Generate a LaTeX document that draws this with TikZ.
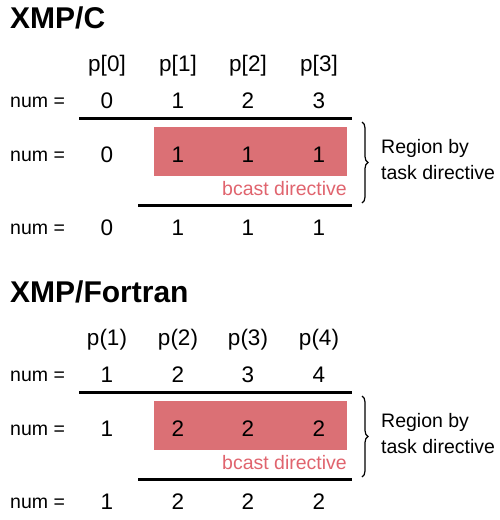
\documentclass[tikz,border=0pt]{standalone}
\usepackage{fontspec}
\setmainfont{Liberation Sans}
\usetikzlibrary{decorations.pathreplacing}
\definecolor{bcastfill}{HTML}{DB7075}
\definecolor{bcasttext}{HTML}{E0646E}
\tikzset{
  lbl/.style={font=\fontsize{22.5}{26}\selectfont, anchor=base, inner sep=0pt},
  numlbl/.style={font=\fontsize{19.5}{23}\selectfont, anchor=base west, inner sep=0pt},
  ttl/.style={font=\fontsize{30}{34}\selectfont\bfseries, anchor=base west, inner sep=0pt},
  side/.style={font=\fontsize{19.5}{23}\selectfont, anchor=base west, inner sep=0pt},
  bcast/.style={font=\fontsize{19.5}{23}\selectfont, anchor=base east, inner sep=0pt, text=bcasttext},
  rulebar/.style={line width=3pt},
  regionbox/.style={fill=bcastfill, draw=none},
  bracebar/.style={decorate, decoration={brace, amplitude=6pt}, line width=1.2pt},
}
\begin{document}
\begin{tikzpicture}[x=1pt, y=-1pt]
\useasboundingbox (0,0) rectangle (500,520);

% ---------- XMP/C ----------
\node[ttl] (ctitle) at (10,28) {XMP/C};
\node[lbl] (cp0) at (107,71) {p[0]};
\node[lbl] (cp1) at (178,71) {p[1]};
\node[lbl] (cp2) at (248,71) {p[2]};
\node[lbl] (cp3) at (319,71) {p[3]};

\node[numlbl] (cn1) at (10,107) {num =};
\node[lbl] (ca0) at (107,108) {0};
\node[lbl] (ca1) at (178,108) {1};
\node[lbl] (ca2) at (248,108) {2};
\node[lbl] (ca3) at (319,108) {3};

\coordinate (cl1a) at (79,118);
\coordinate (cl1b) at (352,118);
\draw[rulebar] (cl1a) -- (cl1b);

\path[regionbox] (154,127) rectangle (347,176);
\node[numlbl] (cn2) at (10,161) {num =};
\node[lbl] (cb0) at (107,162) {0};
\node[lbl] (cb1) at (178,162) {1};
\node[lbl] (cb2) at (248,162) {1};
\node[lbl] (cb3) at (319,162) {1};
\node[bcast] (cbc) at (347,195) {bcast directive};

\coordinate (cl2a) at (138,205);
\coordinate (cl2b) at (352,205);
\draw[rulebar] (cl2a) -- (cl2b);

\node[numlbl] (cn3) at (10,234) {num =};
\node[lbl] (cc0) at (107,235) {0};
\node[lbl] (cc1) at (178,235) {1};
\node[lbl] (cc2) at (248,235) {1};
\node[lbl] (cc3) at (319,235) {1};

\coordinate (cbt) at (362,122);
\coordinate (cbb) at (362,203);
\draw[bracebar] (cbt) -- (cbb);
\node[side] (cr1) at (381,153) {Region by};
\node[side] (cr2) at (381,179) {task directive};

% ---------- XMP/Fortran ----------
\begin{scope}[shift={(0,274)}]
\node[ttl] (ftitle) at (10,28) {XMP/Fortran};
\node[lbl] (fp0) at (107,71) {p(1)};
\node[lbl] (fp1) at (178,71) {p(2)};
\node[lbl] (fp2) at (248,71) {p(3)};
\node[lbl] (fp3) at (319,71) {p(4)};

\node[numlbl] (fn1) at (10,107) {num =};
\node[lbl] (fa0) at (107,108) {1};
\node[lbl] (fa1) at (178,108) {2};
\node[lbl] (fa2) at (248,108) {3};
\node[lbl] (fa3) at (319,108) {4};

\coordinate (fl1a) at (79,118);
\coordinate (fl1b) at (352,118);
\draw[rulebar] (fl1a) -- (fl1b);

\path[regionbox] (154,127) rectangle (347,176);
\node[numlbl] (fn2) at (10,161) {num =};
\node[lbl] (fb0) at (107,162) {1};
\node[lbl] (fb1) at (178,162) {2};
\node[lbl] (fb2) at (248,162) {2};
\node[lbl] (fb3) at (319,162) {2};
\node[bcast] (fbc) at (347,195) {bcast directive};

\coordinate (fl2a) at (138,205);
\coordinate (fl2b) at (352,205);
\draw[rulebar] (fl2a) -- (fl2b);

\node[numlbl] (fn3) at (10,234) {num =};
\node[lbl] (fc0) at (107,235) {1};
\node[lbl] (fc1) at (178,235) {2};
\node[lbl] (fc2) at (248,235) {2};
\node[lbl] (fc3) at (319,235) {2};

\coordinate (fbt) at (362,122);
\coordinate (fbb) at (362,203);
\draw[bracebar] (fbt) -- (fbb);
\node[side] (fr1) at (381,153) {Region by};
\node[side] (fr2) at (381,179) {task directive};
\end{scope}
\end{tikzpicture}
\end{document}
